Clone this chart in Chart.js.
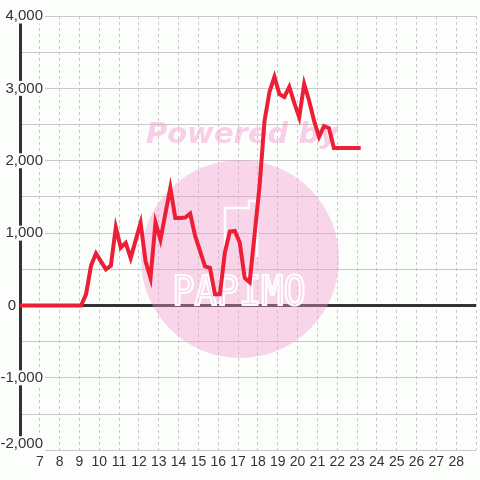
<!DOCTYPE html>
<html>
<head>
<meta charset="utf-8">
<script src="https://cdn.jsdelivr.net/npm/chart.js@4/dist/chart.umd.min.js"></script>
<style>
  html, body { margin: 0; padding: 0; background: #fcfefc; }
  canvas { display: block; }
</style>
</head>
<body>
<canvas id="chart" width="480" height="480"></canvas>
<script>
  // readings every 15 minutes
  const times = [
    '6:05', '6:20', '6:35', '6:50', '7:05', '7:20', '7:35', '7:50',
    '8:05', '8:20', '8:35', '8:50', '9:05', '9:20', '9:35', '9:50',
    '10:05', '10:20', '10:35', '10:50', '11:05', '11:20', '11:35', '11:50',
    '12:05', '12:20', '12:35', '12:50', '13:05', '13:20', '13:35', '13:50',
    '14:05', '14:20', '14:35', '14:50', '15:05', '15:20', '15:35', '15:50',
    '16:05', '16:20', '16:35', '16:50', '17:05', '17:20', '17:35', '17:50',
    '18:05', '18:20', '18:35', '18:50', '19:05', '19:20', '19:35', '19:50',
    '20:05', '20:20', '20:35', '20:50', '21:05', '21:20', '21:35', '21:50',
    '22:05', '22:20', '22:35', '22:50', '23:05'
  ];
  const values = [
    0, 0, 0, 0, 0, 0, 0, 0,
    0, 0, 0, 0, 0, 157, 550, 720,
    610, 500, 550, 1080, 800, 866, 655, 900,
    1140, 610, 380, 1145, 910, 1270, 1625, 1210,
    1210, 1215, 1270, 960, 750, 540, 520, 155,
    155, 730, 1020, 1030, 870, 380, 320, 980,
    1650, 2550, 2950, 3160, 2920, 2880, 3020, 2800,
    2600, 3060, 2830, 2550, 2330, 2480, 2450, 2175,
    2175, 2175, 2175, 2175, 2175
  ];

  // axis ranges (hours on x)
  const xMin = 6, xMax = 29;
  const xLabelFirst = 7, xLabelLast = 28;
  const yMin = -2000, yMax = 4000;
  const yLabelStep = 1000;

  const toHour = t => {
    const [h, m] = t.split(':').map(Number);
    return h + m / 60;
  };

  const bg = '#fcfefc';
  const gridColor = '#c9c9c9';
  const axisColor = '#333333';
  const fontFamily = '"Liberation Sans", Arial, sans-serif';

  // y labels sit on top of the axis line, with a small backdrop
  const yLabels = {
    id: 'yLabels',
    beforeDatasetsDraw(chart) {
      const ctx = chart.ctx;
      const scale = chart.scales.y;
      const area = chart.chartArea;
      ctx.save();
      ctx.font = '15px ' + fontFamily;
      ctx.textBaseline = 'middle';
      ctx.textAlign = 'right';
      for (let v = yMax; v >= yMin; v -= yLabelStep) {
        const text = v.toLocaleString('en-US');
        const y = Math.min(scale.getPixelForValue(v), area.bottom - 6.5);
        if (v === 0) {
          ctx.fillStyle = axisColor;
          ctx.fillText(text, 16, y);
          continue;
        }
        const w = ctx.measureText(text).width;
        ctx.fillStyle = bg;
        ctx.fillRect(43 - w - 2, y - 7.5, w + 4, 15);
        ctx.fillStyle = axisColor;
        ctx.fillText(text, 43, y);
      }
      ctx.restore();
    }
  };

  // pink watermark behind the line
  const watermark = {
    id: 'watermark',
    beforeDatasetsDraw(chart) {
      const ctx = chart.ctx;
      ctx.save();
      ctx.fillStyle = 'rgba(245,152,207,0.4)';
      ctx.beginPath();
      ctx.arc(240, 259, 99, 0, Math.PI * 2);
      ctx.fill();
      ctx.fillStyle = 'rgba(244,150,205,0.45)';
      ctx.font = 'italic bold 29px "DejaVu Sans"';
      ctx.textAlign = 'center';
      ctx.textBaseline = 'alphabetic';
      ctx.fillText('Powered by', 242, 143);

      // logo outline
      ctx.strokeStyle = '#ffffff';
      ctx.lineWidth = 2.5;
      ctx.beginPath();
      ctx.moveTo(225, 257);
      ctx.lineTo(225, 208);
      ctx.lineTo(249, 208);
      ctx.lineTo(249, 201);
      ctx.lineTo(257, 201);
      ctx.lineTo(257, 257);
      ctx.stroke();
      ctx.translate(239, 305);
      ctx.scale(0.9, 1);
      ctx.font = '41px "DejaVu Sans Mono"';
      ctx.lineWidth = 2.2;
      ctx.strokeText('PAPIMO', 0, 0);
      ctx.restore();
    }
  };

  const bgPlugin = {
    id: 'bg',
    beforeDraw(chart) {
      const ctx = chart.ctx;
      ctx.save();
      ctx.fillStyle = bg;
      ctx.fillRect(0, 0, chart.width, chart.height);
      ctx.restore();
    }
  };

  Chart.defaults.font.family = fontFamily;
  Chart.defaults.color = axisColor;

  new Chart(document.getElementById('chart'), {
    type: 'line',
    data: {
      datasets: [{
        data: times.map((t, i) => ({ x: toHour(t), y: values[i] })),
        borderColor: '#ec1f36',
        borderWidth: 4,
        borderCapStyle: 'square',
        borderJoinStyle: 'miter',
        pointRadius: 0,
        tension: 0,
        fill: false
      }]
    },
    options: {
      responsive: false,
      animation: false,
      layout: { padding: { top: 16, right: 0, bottom: 5, left: 0 } },
      plugins: {
        legend: { display: false },
        tooltip: { enabled: false }
      },
      scales: {
        x: {
          type: 'linear',
          min: xMin,
          max: xMax,
          border: { display: false, dash: [3, 3] },
          grid: { color: gridColor, lineWidth: 1, drawTicks: false },
          ticks: {
            stepSize: 1,
            autoSkip: false,
            maxRotation: 0,
            padding: 4,
            font: { size: 14 },
            callback: v => (v >= xLabelFirst && v <= xLabelLast) ? String(v) : ''
          }
        },
        y: {
          min: yMin,
          max: yMax,
          afterFit: scale => { scale.width = 20; },
          border: { display: true, color: axisColor, width: 3 },
          grid: {
            drawTicks: false,
            color: c => c.tick.value === 0 ? axisColor : gridColor,
            lineWidth: c => c.tick.value === 0 ? 3 : 1
          },
          ticks: { stepSize: 500, display: false }
        }
      }
    },
    plugins: [bgPlugin, yLabels, watermark]
  });
</script>
</body>
</html>
